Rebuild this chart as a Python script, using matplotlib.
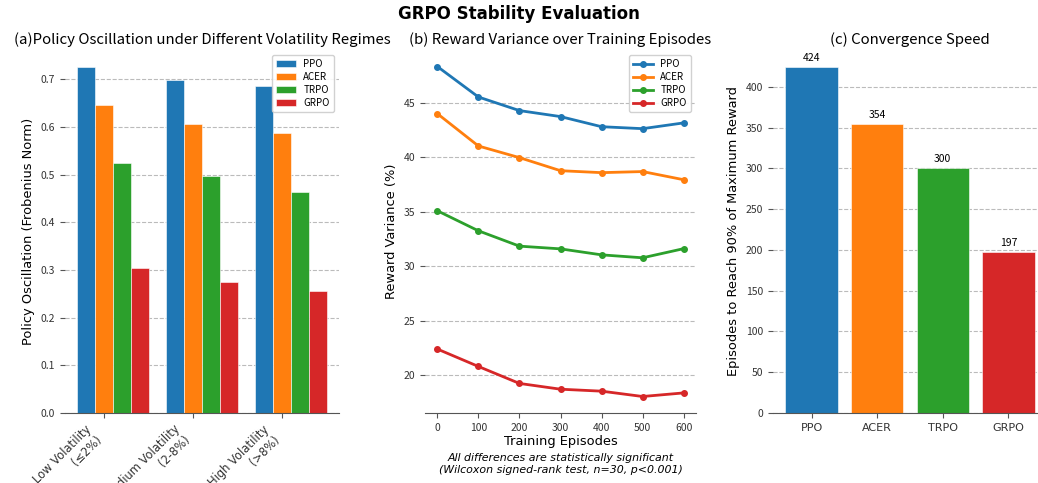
import numpy as np
import matplotlib
matplotlib.use("Agg")
import matplotlib.pyplot as plt

plt.rcParams['font.family'] = ['Noto Sans CJK SC', 'DejaVu Sans']
plt.rcParams['axes.unicode_minus'] = False

methods = ["PPO", "ACER", "TRPO", "GRPO"]
colors = ["#1f77b4", "#ff7f0e", "#2ca02c", "#d62728"]

# (a) policy oscillation per volatility regime
regimes = ["Low Volatility\n(≤2%)", "Medium Volatility\n(2-8%)", "High Volatility\n(>8%)"]
oscillation = {
    "PPO": [0.725, 0.698, 0.686],
    "ACER": [0.645, 0.607, 0.588],
    "TRPO": [0.525, 0.497, 0.464],
    "GRPO": [0.305, 0.274, 0.255],
}

# (b) reward variance over episodes
episodes = [0, 100, 200, 300, 400, 500, 600]
variance = {
    "PPO": [48.35, 45.55, 44.3, 43.75, 42.82, 42.64, 43.17],
    "ACER": [44.02, 41.05, 39.98, 38.78, 38.6, 38.7, 37.95],
    "TRPO": [35.1, 33.26, 31.85, 31.6, 31.05, 30.78, 31.62],
    "GRPO": [22.4, 20.8, 19.24, 18.71, 18.53, 18.04, 18.37],
}

# (c) convergence speed
conv_episodes = [424, 354, 300, 197]

W, H = 1038, 483
fig = plt.figure(figsize=(W / 100, H / 100), dpi=100)

def pos(left, right, top, bottom):
    return [left / W, 1 - bottom / H, (right - left) / W, (bottom - top) / H]

ax1 = fig.add_axes(pos(65, 339, 50, 413))
ax2 = fig.add_axes(pos(425, 696, 50, 413))
ax3 = fig.add_axes(pos(773, 1047, 50, 413))

def style(ax):
    for s in ["top", "right", "left"]:
        ax.spines[s].set_visible(False)
    ax.spines["bottom"].set_color("#555555")
    ax.tick_params(colors="#333333", labelsize=7.5, color="#555555")
    ax.yaxis.grid(True, linestyle="--", color="#aaaaaa", alpha=0.8, linewidth=0.8)
    ax.set_axisbelow(True)

leg_kw = dict(loc="upper right", fontsize=7, framealpha=0.9, borderpad=0.45, labelspacing=0.3)

# (a)
x = np.arange(len(regimes))
width = 0.2
for i, m in enumerate(methods):
    ax1.bar(x + (i - 1) * width, oscillation[m], width, color=colors[i], label=m,
            edgecolor="white", linewidth=0.4)
style(ax1)
ax1.set_xticks(x)
ax1.set_xticklabels(regimes, rotation=45, ha="right", family="DejaVu Sans", fontsize=8.3)
ax1.set_ylabel("Policy Oscillation (Frobenius Norm)", family="DejaVu Sans", fontsize=9.4)
ax1.set_title("(a)Policy Oscillation under Different Volatility Regimes", fontsize=10.8, pad=4)
ax1.legend(**leg_kw)

# (b)
for i, m in enumerate(methods):
    ax2.plot(episodes, variance[m], marker="o", markersize=4, linewidth=2,
             color=colors[i], label=m)
style(ax2)
ax2.set_xticks(episodes)
ax2.set_xlabel("Training Episodes", family="DejaVu Sans", fontsize=9.4, labelpad=2)
ax2.set_ylabel("Reward Variance (%)", family="DejaVu Sans", fontsize=9.4)
ax2.set_title("(b) Reward Variance over Training Episodes", fontsize=10.8, pad=4)
ax2.legend(**leg_kw)
ax2.text(0.5, -0.11, "All differences are statistically significant\n(Wilcoxon signed-rank test, n=30, p<0.001)",
         transform=ax2.transAxes, ha="center", va="top", style="italic",
         family="DejaVu Sans", fontsize=7.9, linespacing=1.3)

# (c)
bars = ax3.bar(methods, conv_episodes, color=colors, width=0.8, edgecolor="white", linewidth=0.4)
style(ax3)
ax3.set_xticks(range(len(methods)))
ax3.set_xticklabels(methods, family="DejaVu Sans", fontsize=8)
ax3.set_ylabel("Episodes to Reach 90% of Maximum Reward", family="DejaVu Sans", fontsize=9.4)
ax3.set_title("(c) Convergence Speed", fontsize=10.8, pad=4)
for b, v in zip(bars, conv_episodes):
    ax3.annotate(str(v), (b.get_x() + b.get_width() / 2, v), xytext=(0, 3),
                 textcoords="offset points", ha="center", va="bottom", fontsize=7.5)

fig.suptitle("GRPO Stability Evaluation", fontsize=12, fontweight="bold",
             family="DejaVu Sans", y=0.99)

fig.savefig("out.png", dpi=100)
